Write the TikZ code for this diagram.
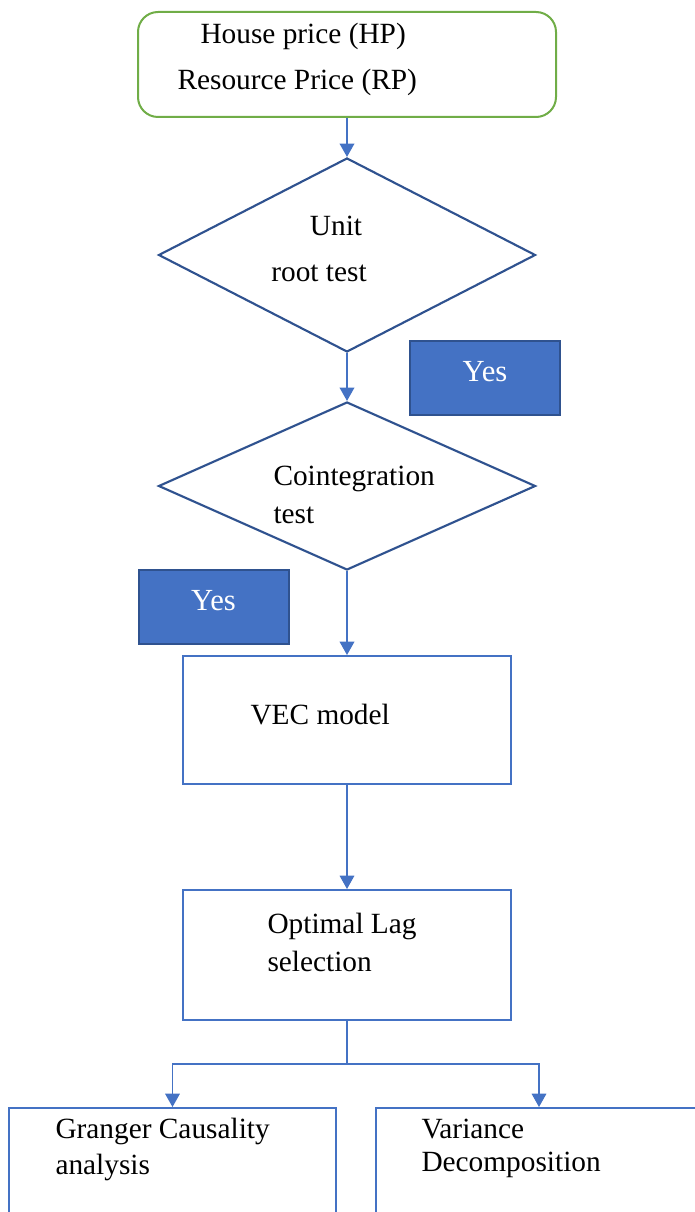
\documentclass[tikz,border=0pt]{standalone}
\usepackage{fontspec}
\setmainfont{Liberation Serif}
\usetikzlibrary{shapes.geometric,arrows.meta}

\definecolor{flowgreen}{RGB}{112,173,71}
\definecolor{flowblue}{RGB}{68,114,196}
\definecolor{flowdark}{RGB}{47,82,143}

\tikzset{every picture/.style={line width=0.75pt}}
\tikzset{
  boxshape/.style={draw=flowblue, line width=1.5pt, inner sep=0pt},
  decision/.style={diamond, draw=flowdark, line width=1.6pt, inner sep=0pt, minimum width=282.75pt},
  yesbox/.style={draw=flowdark, fill=flowblue, line width=1.5pt, text=white, minimum width=112.5pt, minimum height=55.5pt, text depth=10pt, font=\fontsize{23}{27}\selectfont},
  txt/.style={anchor=west, inner sep=0.75pt},
  flowarrow/.style={draw=flowblue, line width=1.1pt, -{Triangle[width=11pt,length=10pt]}},
}

\begin{document}
\begin{tikzpicture}[x=0.75pt,y=0.75pt,yscale=-1,xscale=1,font=\fontsize{22}{26}\selectfont]
\path[use as bounding box] (0,0) rectangle (695,1212);
\clip (0,0) rectangle (695,1212);

%Shape: Rounded Rect
\node [boxshape, draw=flowgreen, rounded corners=15pt, minimum width=313.5pt, minimum height=78.75pt] (data) at (347,64.5) {};
%Shape: Diamond
\node [decision, minimum height=145.5pt] (unitroot) at (347,255) {};
\node [yesbox] (yesa) at (485,378) {Yes};
%Shape: Diamond
\node [decision, minimum height=126pt] (coint) at (347,486) {};
\node [yesbox] (yesb) at (213.5,607) {Yes};
%Shape: Rectangle
\node [boxshape, minimum width=246pt, minimum height=96pt] (vec) at (347,720) {};
\node [boxshape, minimum width=246pt, minimum height=97.5pt] (lag) at (347,955) {};
\node [boxshape, minimum width=245.25pt, minimum height=120pt] (granger) at (172.5,1188) {};
\node [boxshape, minimum width=244.5pt, minimum height=120pt] (variance) at (539,1188) {};

% Text Node
\node [txt] (hp) at (199,36) {House price (HP)};
\node [txt] (rp) at (176,82) {Resource Price (RP)};
\node [anchor=center] (unit) at (336,226) {Unit};
\node [anchor=center] (roottest) at (319,273) {root test};
\node [txt] (cointtxt) at (272,479) {Cointegration};
\node [txt] (testtxt) at (272,515) {test};
\node [txt] (vectxt) at (249,715) {VEC model};
\node [txt] (optlag) at (266,926) {Optimal Lag};
\node [txt] (seltxt) at (266,961) {selection};
\node [txt] (grangertxt) at (54,1131) {Granger Causality};
\node [txt] (analysis) at (54,1167) {analysis};
\node [txt] (vartxt) at (420,1129) {Variance};
\node [txt] (decomp) at (420,1165) {Decomposition};

%Straight Lines
\draw [flowarrow] (data.south) -- (unitroot.north);
\draw [flowarrow] (unitroot.south) -- (coint.north);
\draw [flowarrow] (coint.south) -- (vec.north);
\draw [flowarrow, line width=0.9pt] (vec.south) -- (lag.north);
\coordinate (fork) at (347,1064);
\draw [draw=flowblue, line width=0.9pt] (lag.south) -- (fork);
\draw [flowarrow, line width=0.9pt] (fork) -| (granger.north);
\draw [flowarrow, line width=0.9pt] (fork) -| (variance.north);

\end{tikzpicture}
\end{document}
